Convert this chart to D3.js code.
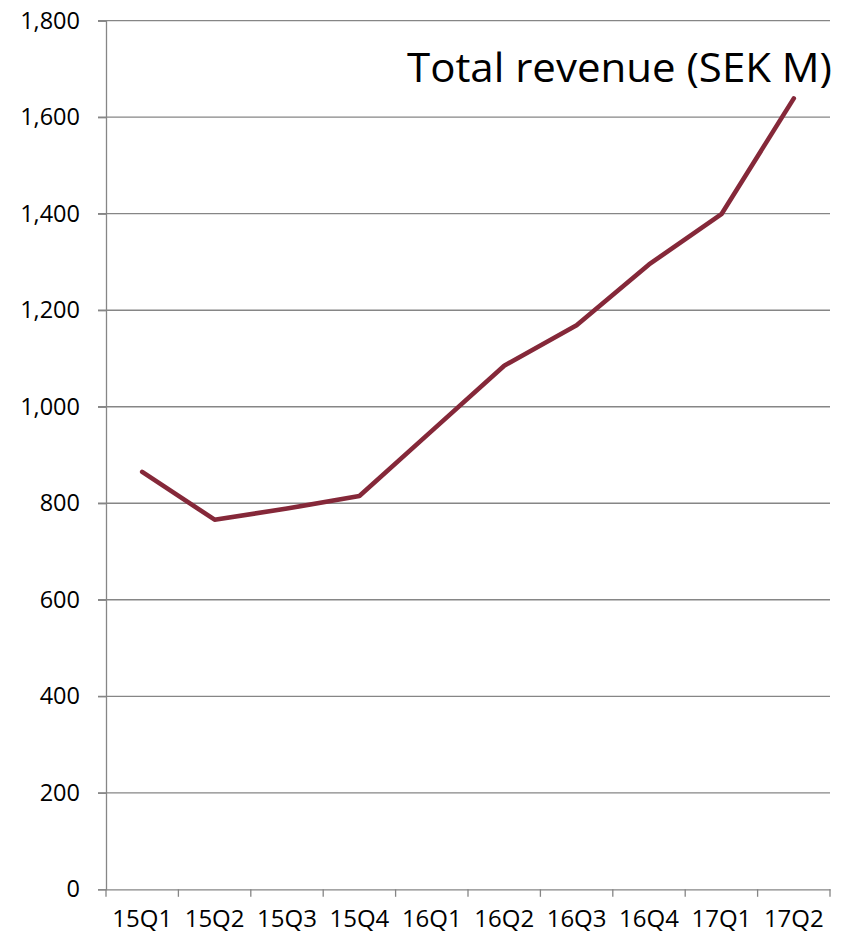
<!DOCTYPE html>
<html><head><meta charset="utf-8">
<script src="https://cdn.jsdelivr.net/npm/d3@7"></script>
<style>body{margin:0;background:#fff}svg{display:block}</style>
</head><body>
<script>
const categories = ["15Q1","15Q2","15Q3","15Q4","16Q1","16Q2","16Q3","16Q4","17Q1","17Q2"];
const revenue = [865, 766, 789, 815, 950, 1085, 1169, 1295, 1399, 1639];
const yTicks = [0,200,400,600,800,1000,1200,1400,1600,1800];
const titleText = "Total revenue (SEK M)";

const W = 846, H = 935;
const m = {left:106, right:16, top:20.7, bottom:45.7};
const svg = d3.select("body").append("svg").attr("width",W).attr("height",H);
const x = d3.scaleBand().domain(categories).range([m.left, W-m.right]).padding(0);
const y = d3.scaleLinear().domain([0,1800]).range([H-m.bottom, m.top]);
const grey = "#868686";
const font = "'Open Sans', sans-serif";

// gridlines
svg.append("g").selectAll("line").data(yTicks.filter(d=>d>0)).join("line")
  .attr("x1", m.left-8).attr("x2", W-m.right)
  .attr("y1", d=>y(d)).attr("y2", d=>y(d))
  .attr("stroke", grey).attr("stroke-width",1.3);

// y axis
const yAxis = svg.append("g").attr("transform",`translate(${m.left},0)`)
  .call(d3.axisLeft(y).tickValues(yTicks).tickSize(8).tickPadding(18).tickFormat(d3.format(",")));
yAxis.select(".domain").attr("stroke",grey).attr("stroke-width",1.3);
yAxis.selectAll(".tick line").attr("stroke",grey).attr("stroke-width",1.3);
yAxis.selectAll("text").attr("font-family",font).attr("font-size",23.5).attr("fill","#000");

// x axis
const xAxis = svg.append("g").attr("transform",`translate(0,${y(0)})`)
  .call(d3.axisBottom(x).tickSize(0).tickPadding(0));
xAxis.select(".domain").attr("stroke",grey).attr("stroke-width",1.3);
xAxis.selectAll(".tick text").attr("font-family",font).attr("font-size",24).attr("fill","#000")
  .attr("dy", null).attr("y", 38);
// boundary tick marks
const bounds = categories.map(c=>x(c)).concat([x(categories[categories.length-1])+x.bandwidth()]);
xAxis.append("g").selectAll("line").data(bounds).join("line")
  .attr("x1",d=>d).attr("x2",d=>d).attr("y1",0).attr("y2",7.5)
  .attr("stroke",grey).attr("stroke-width",1.3);

// line
const line = d3.line().x((d,i)=>x(categories[i])+x.bandwidth()/2).y(d=>y(d));
svg.append("path").datum(revenue).attr("d",line)
  .attr("fill","none").attr("stroke","#852839").attr("stroke-width",4.6)
  .attr("stroke-linejoin","round").attr("stroke-linecap","round");

// title
svg.append("text").attr("x",832).attr("y",82).attr("text-anchor","end")
  .attr("font-family",font).attr("font-size",40).attr("fill","#000")
  .attr("textLength",425).attr("lengthAdjust","spacingAndGlyphs")
  .text(titleText);
</script>
</body></html>
